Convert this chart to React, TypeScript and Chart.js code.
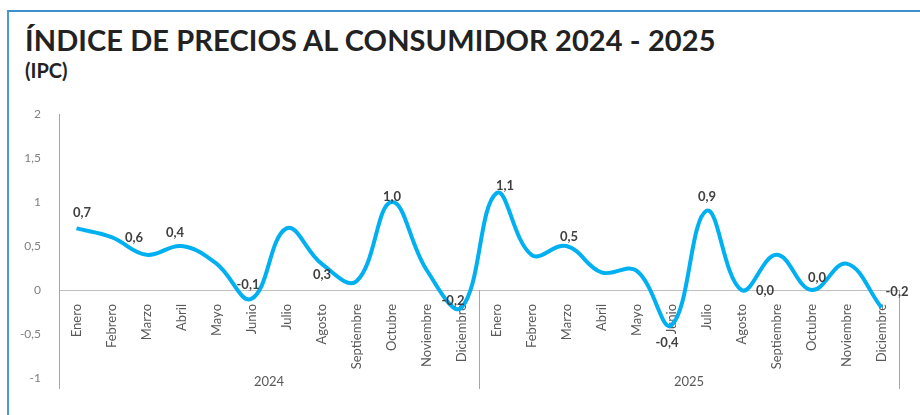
import React, { useEffect, useRef } from "react";
import { Chart, registerables } from "chart.js";

Chart.register(...registerables);

const months = ["Enero", "Febrero", "Marzo", "Abril", "Mayo", "Junio", "Julio", "Agosto", "Septiembre", "Octubre", "Noviembre", "Diciembre"];
const years = ["2024", "2025"];
const categories = [...months, ...months];
const values2024 = [0.7, 0.6, 0.4, 0.5, 0.3, -0.1, 0.7, 0.3, 0.1, 1.0, 0.23, -0.2];
const values2025 = [1.1, 0.4, 0.5, 0.2, 0.22, -0.4, 0.9, 0.0, 0.4, 0.0, 0.3, -0.2];
const values = [...values2024, ...values2025];
const yTicks = [2, 1.5, 1, 0.5, 0, -0.5, -1];
// data label texts shown on the chart (index -> text)
const labelTexts: (string | null)[] = [
  "0,7", "0,6", null, "0,4", null, "-0,1", null, "0,3", null, "1,0", null, "-0,2",
  "1,1", null, "0,5", null, null, "-0,4", "0,9", "0,0", null, "0,0", null, "-0,2",
];
// label offsets from their point (px)
const labelOffsets: ([number, number] | null)[] = [
  [5.5, -15.4], [22.5, 0.8], null, [-6.5, -13], null, [-3.5, -13.8], null, [0.5, 11.4], null, [0.5, -5], null, [-8.5, -6.6],
  [8.5, -7.2], null, [2.5, -9], null, null, [-4.5, 17.8], [0.5, -13.8], [23.5, 1], null, [5.5, -12], null, [15.5, -15.6],
];

const FONT = "Lato, 'Noto Sans', sans-serif";

const overlayPlugin = {
  id: "overlay",
  afterDatasetsDraw(chart: any) {
    const { ctx, chartArea, scales } = chart;
    const x = scales.x;
    const y = scales.y;
    const zeroY = y.getPixelForValue(0);
    const bottom = chartArea.bottom + 11;
    ctx.save();
    // group separators
    ctx.strokeStyle = "#a6a6a6";
    ctx.lineWidth = 1;
    const half = (x.getPixelForValue(1) - x.getPixelForValue(0)) / 2;
    const seps = [x.getPixelForValue(0) - half, x.getPixelForValue(11) + half, x.getPixelForValue(23) + half];
    seps.forEach((sx, i) => {
      const px = Math.round(sx) + 0.5;
      ctx.beginPath();
      ctx.moveTo(px, i === 0 ? chartArea.bottom : zeroY);
      ctx.lineTo(px, bottom);
      ctx.stroke();
    });
    // year labels
    ctx.fillStyle = "#595959";
    ctx.font = `13px ${FONT}`;
    ctx.textAlign = "center";
    ctx.textBaseline = "middle";
    years.forEach((yr, i) => {
      const cx = (seps[i] + seps[i + 1]) / 2;
      ctx.fillText(yr, cx, chartArea.bottom + 4);
    });
    // data labels
    ctx.fillStyle = "#404040";
    ctx.font = `bold 13px ${FONT}`;
    labelTexts.forEach((t, i) => {
      const off = labelOffsets[i];
      if (!t || !off) return;
      const px = x.getPixelForValue(i) + off[0];
      const py = y.getPixelForValue(values[i]) + off[1];
      ctx.fillText(t, px, py);
    });
    ctx.restore();
  },
};

export default function App() {
  const ref = useRef<HTMLCanvasElement | null>(null);
  useEffect(() => {
    if (!ref.current) return;
    const chart = new Chart(ref.current, {
      type: "line",
      data: {
        labels: categories,
        datasets: [
          {
            data: values,
            borderColor: "#00B0F0",
            borderWidth: 4,
            pointRadius: 0,
            tension: 0.4,
            fill: false,
          },
        ],
      },
      options: {
        animation: false,
        responsive: false,
        maintainAspectRatio: false,
        layout: { padding: { top: 114, right: 21, left: 0, bottom: 37 } },
        plugins: { legend: { display: false }, tooltip: { enabled: false }, title: { display: false } },
        scales: {
          x: {
            type: "category",
            offset: true,
            position: { y: 0 } as any,
            grid: { display: false, offset: true },
            border: { display: true, color: "#bfbfbf", width: 1 },
            ticks: {
              autoSkip: false,
              maxRotation: 90,
              minRotation: 90,
              padding: 6,
              color: "#595959",
              font: { family: FONT, size: 13 },
            },
            afterFit(scale: any) {
              scale.height = 0;
            },
          },
          y: {
            min: -1,
            max: 2,
            grid: { display: false },
            border: { display: true, color: "#a6a6a6", width: 1 },
            afterBuildTicks(scale: any) {
              scale.ticks = yTicks.map((v) => ({ value: v }));
            },
            ticks: {
              padding: 10,
              color: "#808080",
              font: { family: FONT, size: 12 },
              callback: (v: any) => String(v).replace(".", ","),
            },
            afterFit(scale: any) {
              scale.width = 59;
            },
          },
        },
      },
      plugins: [overlayPlugin],
    });
    return () => chart.destroy();
  }, []);

  return (
    <div style={{ position: "fixed", left: 0, top: 0, width: 920, height: 415, background: "#fff", overflow: "hidden" }}>
      <div style={{ position: "absolute", left: 7, top: 10, width: 913, height: 405, borderLeft: "2px solid #4a9bd6", borderTop: "2px solid #3d8fcf" }} />
      <div style={{ position: "absolute", left: 25, top: 23, fontFamily: FONT, fontWeight: 700, fontSize: 29, color: "#222", whiteSpace: "nowrap", lineHeight: "34px", letterSpacing: 0.1 }}>
        ÍNDICE DE PRECIOS AL CONSUMIDOR 2024 - 2025
      </div>
      <div style={{ position: "absolute", left: 25, top: 58, fontFamily: FONT, fontWeight: 700, fontSize: 20, color: "#222", lineHeight: "24px" }}>
        (IPC)
      </div>
      <canvas ref={ref} width={920} height={415} style={{ position: "absolute", left: 0, top: 0 }} />
    </div>
  );
}
